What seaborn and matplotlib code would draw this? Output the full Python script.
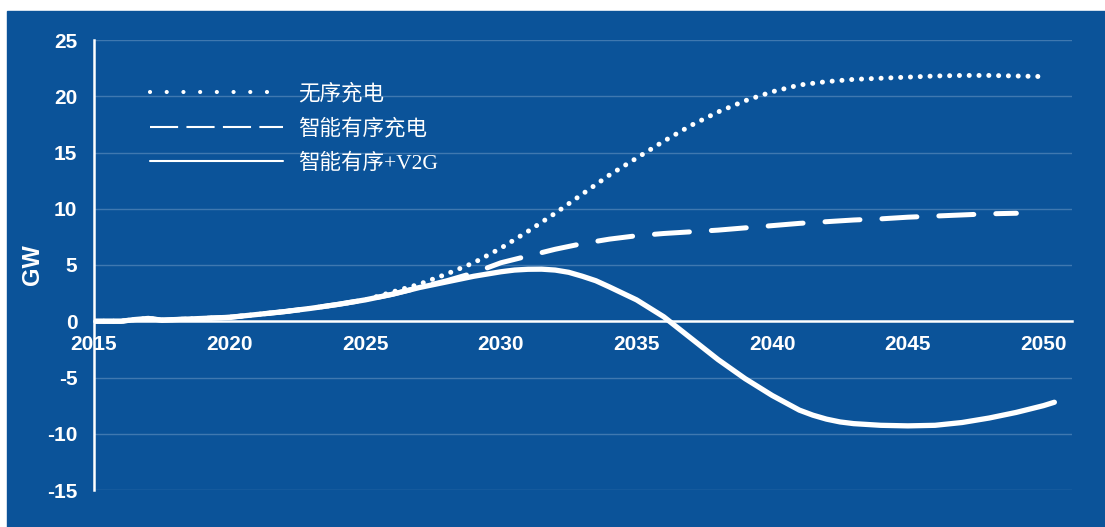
import numpy as np
import pandas as pd
import matplotlib
matplotlib.use("Agg")
import matplotlib.pyplot as plt
import seaborn as sns
from matplotlib.lines import Line2D
from matplotlib.patches import Rectangle

# 数据 (GW)
anos_base = [2015, 2016, 2016.5, 2017, 2017.5, 2018, 2019, 2020, 2021, 2022, 2023, 2024, 2025]
base = [0.0, 0.0, 0.15, 0.25, 0.1, 0.15, 0.25, 0.35, 0.6, 0.85, 1.15, 1.5, 1.9]

anos_desordenado = anos_base + list(range(2026, 2051))
desordenado = base + [2.6, 3.3, 4.2, 5.2, 6.5, 8.0, 9.6, 11.3, 13.0, 14.5, 16.0, 17.4,
                      18.6, 19.6, 20.4, 21.0, 21.3, 21.5, 21.6, 21.7, 21.8, 21.85,
                      21.85, 21.8, 21.75]

anos_ordenado = anos_base + list(range(2026, 2050))
ordenado = base + [2.4, 3.0, 3.6, 4.3, 5.2, 5.8, 6.4, 6.9, 7.3, 7.6, 7.8, 7.95, 8.1,
                   8.3, 8.5, 8.7, 8.85, 9.0, 9.1, 9.25, 9.35, 9.45, 9.55, 9.6]

anos_v2g = anos_base + [2026, 2027, 2028, 2029, 2030, 2030.5, 2031, 2031.5, 2032,
                        2032.5, 2033, 2033.5, 2034, 2035, 2036, 2037, 2038, 2039,
                        2040, 2041, 2041.5, 2042, 2042.5, 2043, 2044, 2045, 2046,
                        2047, 2048, 2049, 2050, 2050.4]
v2g = base + [2.4, 3.0, 3.5, 4.0, 4.4, 4.55, 4.62, 4.63, 4.55, 4.35, 4.0, 3.6, 3.05,
              1.9, 0.4, -1.5, -3.4, -5.1, -6.6, -7.9, -8.35, -8.7, -8.95, -9.1,
              -9.25, -9.3, -9.25, -9.0, -8.6, -8.1, -7.5, -7.2]

rotulos = ['无序充电', '智能有序充电', '智能有序+V2G']
y_ticks = [-15, -10, -5, 0, 5, 10, 15, 20, 25]
x_ticks = [2015, 2020, 2025, 2030, 2035, 2040, 2045, 2050]

azul = '#0b5399'
grade = '#3f78b0'

sns.set_style("white")
plt.rcParams['font.family'] = ['Liberation Sans', 'DejaVu Sans']

fig = plt.figure(figsize=(11.05, 5.27), dpi=100, facecolor='white')
fig.patches.append(Rectangle((7 / 1105, 0), 1 - 7 / 1105, 516 / 527,
                             transform=fig.transFigure, color=azul, zorder=-5))
ax = fig.add_axes([94 / 1105, 1 - 490 / 527, (1072 - 94) / 1105, 450 / 527])
ax.set_facecolor(azul)

df1 = pd.DataFrame({'ano': anos_desordenado, 'gw': desordenado})
df2 = pd.DataFrame({'ano': anos_ordenado, 'gw': ordenado})
df3 = pd.DataFrame({'ano': anos_v2g, 'gw': v2g})

sns.lineplot(data=df3, x='ano', y='gw', ax=ax, color='white', linewidth=3.8,
             solid_capstyle='round', solid_joinstyle='round', zorder=3)
sns.lineplot(data=df2, x='ano', y='gw', ax=ax, color='white', linewidth=3.6,
             linestyle=(0, (7, 4.4)), dash_capstyle='round', zorder=4)
sns.lineplot(data=df1, x='ano', y='gw', ax=ax, color='white', linewidth=3.6,
             linestyle=(0, (0.01, 1.95)), dash_capstyle='round', zorder=5)

ax.set_xlim(2015, 2051.05)
ax.set_ylim(-15, 25)
ax.set_yticks(y_ticks)
ax.set_xticks(x_ticks)
ax.set_yticklabels([str(v) for v in y_ticks])
ax.set_xticklabels([str(v) for v in x_ticks])

for y in y_ticks:
    if y != 0:
        ax.axhline(y, color=grade, linewidth=1.0, zorder=1)

for lado in ['top', 'right']:
    ax.spines[lado].set_visible(False)
ax.spines['bottom'].set_position(('data', 0))
ax.spines['bottom'].set_color('white')
ax.spines['bottom'].set_linewidth(1.8)
ax.spines['bottom'].set_zorder(2)
ax.spines['left'].set_color('white')
ax.spines['left'].set_linewidth(1.8)

ax.tick_params(axis='y', length=0, pad=12, labelcolor='white', labelsize=15)
ax.tick_params(axis='x', direction='out', length=6, width=1.5, color='white',
               pad=4, labelcolor='white', labelsize=15)
for t in ax.get_xticklabels() + ax.get_yticklabels():
    t.set_fontweight('bold')

ax.set_xlabel('')
ax.set_ylabel('GW', color='white', fontsize=17, fontweight='bold', labelpad=2)

handles = [
    Line2D([], [], color='white', linewidth=3.0, linestyle=(0, (0.01, 4.0)),
           dash_capstyle='round'),
    Line2D([], [], color='white', linewidth=1.5, linestyle=(0, (13.5, 4))),
    Line2D([], [], color='white', linewidth=1.5),
]
fs = 15.5
leg = ax.legend(handles, rotulos, loc='upper left', frameon=False,
                bbox_to_anchor=((150 - 0.4 * fs * 100 / 72 - 94) / 978, 1 - (75 - 40) / 450),
                borderaxespad=0, handlelength=6.2, handletextpad=0.7,
                labelspacing=0.66,
                prop={'family': ['Liberation Serif', 'Noto Sans CJK SC'], 'size': fs})
for t in leg.get_texts():
    t.set_color('white')

plt.savefig('out.png', dpi=100, facecolor=fig.get_facecolor())
